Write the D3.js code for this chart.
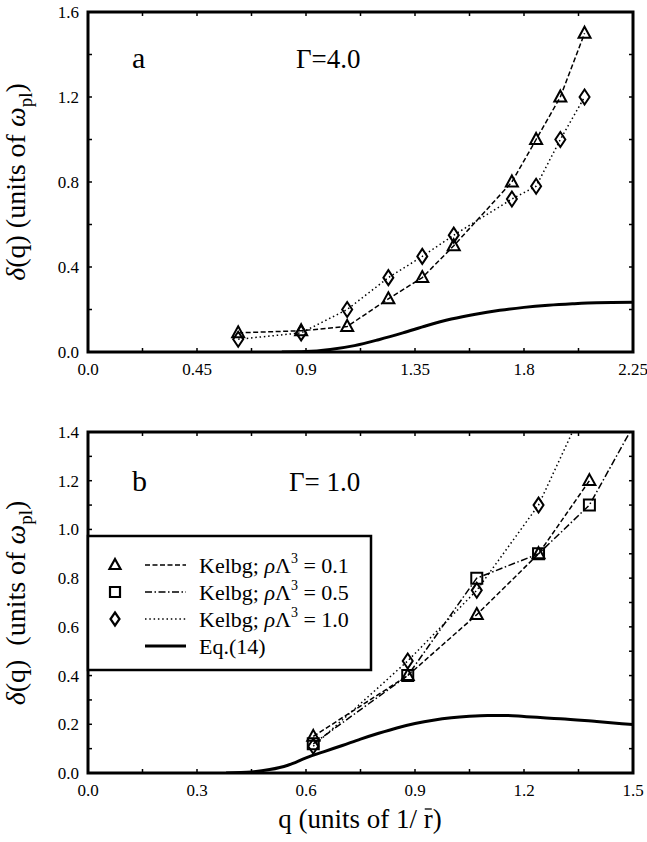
<!DOCTYPE html>
<html><head><meta charset="utf-8">
<script src="https://cdn.jsdelivr.net/npm/d3@7"></script>
<style>
body{margin:0;background:#fff}
svg text{font-family:"Liberation Serif","Tinos","Times New Roman",Times,"Nimbus Roman","DejaVu Serif",serif;}
</style>
</head><body>
<svg id="c" width="647" height="842" xmlns="http://www.w3.org/2000/svg"></svg>
<script>
// ---------- data: panel a (Gamma = 4.0) ----------
const qA   = [0.62, 0.88, 1.07, 1.24, 1.38, 1.51, 1.75, 1.85, 1.95, 2.05];
const triA = [0.09, 0.10, 0.12, 0.25, 0.35, 0.50, 0.80, 1.00, 1.20, 1.50];
const diaA = [0.06, 0.09, 0.20, 0.35, 0.45, 0.55, 0.72, 0.78, 1.00, 1.20];
const eqAq = [0.80, 0.90, 1.00, 1.10, 1.20, 1.30, 1.40, 1.50, 1.60, 1.70, 1.80, 1.90, 2.00, 2.10, 2.25];
const eqAy = [0.000, 0.002, 0.012, 0.030, 0.058, 0.090, 0.125, 0.155, 0.178, 0.196, 0.210, 0.220, 0.227, 0.232, 0.234];
// ---------- data: panel b (Gamma = 1.0) ----------
const triBq = [0.62, 0.88, 1.07, 1.24, 1.38];
const triB  = [0.15, 0.40, 0.65, 0.90, 1.20];
const sqBq  = [0.62, 0.88, 1.07, 1.24, 1.38, 1.51];
const sqB   = [0.12, 0.40, 0.80, 0.90, 1.10, 1.45];
const diaBq = [0.62, 0.88, 1.07, 1.24, 1.38];
const diaB  = [0.11, 0.46, 0.75, 1.10, 1.55];
const eqBq = [0.38, 0.45, 0.50, 0.55, 0.60, 0.65, 0.70, 0.75, 0.80, 0.85, 0.90, 0.95, 1.00, 1.05, 1.10, 1.15, 1.20, 1.30, 1.40, 1.50];
const eqBy = [0.000, 0.004, 0.014, 0.032, 0.062, 0.088, 0.113, 0.139, 0.163, 0.185, 0.203, 0.217, 0.227, 0.233, 0.236, 0.236, 0.232, 0.223, 0.211, 0.199];
// ---------- ticks ----------
const xTicksA = [0, 0.45, 0.9, 1.35, 1.8, 2.25];
const xLabelsA = ["0.0", "0.45", "0.9", "1.35", "1.8", "2.25"];
const yTicksA = [0, 0.4, 0.8, 1.2, 1.6];
const yLabelsA = ["0.0", "0.4", "0.8", "1.2", "1.6"];
const xTicksB = [0, 0.3, 0.6, 0.9, 1.2, 1.5];
const xLabelsB = ["0.0", "0.3", "0.6", "0.9", "1.2", "1.5"];
const yTicksB = [0, 0.2, 0.4, 0.6, 0.8, 1.0, 1.2, 1.4];
const yLabelsB = ["0.0", "0.2", "0.4", "0.6", "0.8", "1.0", "1.2", "1.4"];
const legendLabels = ["0.1", "0.5", "1.0"];

// ---------- drawing ----------
const svg = d3.select("#c");
const DASH = "5,2.5", DASHDOT = "7,2.5,1.5,2.5", DOT = "1.5,2.8";

function tri(x, y, w, h) { return `M${x},${y - h * 0.6}L${x + w / 2},${y + h * 0.4}L${x - w / 2},${y + h * 0.4}Z`; }
function dia(x, y, w, h) { return `M${x},${y - h / 2}L${x + w / 2},${y}L${x},${y + h / 2}L${x - w / 2},${y}Z`; }
function sq(x, y, s) { return `M${x - s / 2},${y - s / 2}h${s}v${s}h${-s}Z`; }

function panel(cfg) {
  const x = d3.scaleLinear().domain([0, cfg.xmax]).range([cfg.left, cfg.right]);
  const y = d3.scaleLinear().domain([0, cfg.ymax]).range([cfg.bottom, cfg.top]);
  const g = svg.append("g");
  const cid = "clip" + cfg.id;
  svg.append("clipPath").attr("id", cid).append("rect")
    .attr("x", cfg.left).attr("y", cfg.top)
    .attr("width", cfg.right - cfg.left).attr("height", cfg.bottom - cfg.top);

  const tl = 4;
  const xt = d3.range(0, cfg.xmax + 1e-9, cfg.xminor);
  const yt = d3.range(0, cfg.ymax + 1e-9, cfg.yminor);
  xt.forEach(v => {
    g.append("line").attr("x1", x(v)).attr("x2", x(v)).attr("y1", cfg.bottom).attr("y2", cfg.bottom - tl).attr("stroke", "#000").attr("stroke-width", 1.5);
    g.append("line").attr("x1", x(v)).attr("x2", x(v)).attr("y1", cfg.top).attr("y2", cfg.top + tl).attr("stroke", "#000").attr("stroke-width", 1.5);
  });
  yt.forEach(v => {
    g.append("line").attr("y1", y(v)).attr("y2", y(v)).attr("x1", cfg.left).attr("x2", cfg.left + tl).attr("stroke", "#000").attr("stroke-width", 1.5);
    g.append("line").attr("y1", y(v)).attr("y2", y(v)).attr("x1", cfg.right).attr("x2", cfg.right - tl).attr("stroke", "#000").attr("stroke-width", 1.5);
  });

  cfg.xTicks.forEach((v, i) => {
    g.append("text").attr("x", x(v)).attr("y", cfg.bottom + 23).attr("text-anchor", "middle")
      .attr("font-size", 17).text(cfg.xLabels[i]);
  });
  cfg.yTicks.forEach((v, i) => {
    g.append("text").attr("x", cfg.left - 9).attr("y", y(v) + 6).attr("text-anchor", "end")
      .attr("font-size", 17).text(cfg.yLabels[i]);
  });

  const d = svg.append("g").attr("clip-path", `url(#${cid})`);
  return { x, y, g, d };
}

function series(p, qs, vs, dash, marker) {
  const line = d3.line().x((v, i) => p.x(qs[i])).y(v => p.y(v));
  p.d.append("path").attr("d", line(vs)).attr("fill", "none").attr("stroke", "#000")
    .attr("stroke-width", 1.5).attr("stroke-dasharray", dash);
  vs.forEach((v, i) => {
    const cx = p.x(qs[i]), cy = p.y(v);
    let path;
    if (marker === "tri") path = tri(cx, cy, 12, 11);
    else if (marker === "dia") path = dia(cx, cy, 10, 15);
    else path = sq(cx, cy, 11);
    p.d.append("path").attr("d", path).attr("fill", "none").attr("stroke", "#000").attr("stroke-width", 2);
  });
}

function eqCurve(p, qs, vs) {
  const line = d3.line().x((v, i) => p.x(qs[i])).y(v => p.y(v)).curve(d3.curveMonotoneX);
  p.d.append("path").attr("d", line(vs)).attr("fill", "none").attr("stroke", "#000").attr("stroke-width", 3);
}

function frame(cfg) {
  svg.append("rect").attr("x", cfg.left).attr("y", cfg.top)
    .attr("width", cfg.right - cfg.left).attr("height", cfg.bottom - cfg.top)
    .attr("fill", "none").attr("stroke", "#000").attr("stroke-width", 3);
}

function yTitle(cy, dblSpace) {
  const t = svg.append("text").attr("transform", `translate(25,${cy}) rotate(-90)`)
    .attr("text-anchor", "middle").attr("font-size", 28);
  t.append("tspan").attr("font-style", "italic").text("δ");
  t.append("tspan").text(dblSpace ? "(q)\u00A0\u00A0(units of " : "(q) (units of ");
  t.append("tspan").attr("font-style", "italic").text("ω");
  t.append("tspan").attr("font-size", 19).attr("dy", 7).text("pl");
  t.append("tspan").attr("dy", -7).text(")");
}

// ---- panel a ----
const cfgA = { id: "A", left: 88, right: 633, top: 12, bottom: 352, xmax: 2.25, ymax: 1.6, xminor: 0.225, yminor: 0.2,
  xTicks: xTicksA, xLabels: xLabelsA, yTicks: yTicksA, yLabels: yLabelsA };
const pA = panel(cfgA);
eqCurve(pA, eqAq, eqAy);
series(pA, qA, diaA, DOT, "dia");
series(pA, qA, triA, DASH, "tri");
frame(cfgA);
svg.append("text").attr("x", 132).attr("y", 68).attr("font-size", 30).text("a");
svg.append("text").attr("x", 296).attr("y", 68).attr("font-size", 27).text("Γ=4.0");
yTitle(182, false);

// ---- panel b ----
const cfgB = { id: "B", left: 88, right: 633, top: 432, bottom: 773, xmax: 1.5, ymax: 1.4, xminor: 0.15, yminor: 0.1,
  xTicks: xTicksB, xLabels: xLabelsB, yTicks: yTicksB, yLabels: yLabelsB };
const pB = panel(cfgB);
eqCurve(pB, eqBq, eqBy);
series(pB, diaBq, diaB, DOT, "dia");
series(pB, sqBq, sqB, DASHDOT, "sq");
series(pB, triBq, triB, DASH, "tri");
frame(cfgB);
svg.append("text").attr("x", 132).attr("y", 491).attr("font-size", 30).text("b");
svg.append("text").attr("x", 289).attr("y", 491).attr("font-size", 27).text("Γ= 1.0");
yTitle(603, true);

// x title with overlined r
const xt = svg.append("text").attr("x", 360).attr("y", 828).attr("text-anchor", "middle")
  .attr("font-size", 27).text("q (units of 1/ r)");
{
  const node = xt.node();
  const n = node.getNumberOfChars();
  const ext = node.getExtentOfChar(n - 2); // the 'r'
  svg.append("line").attr("x1", ext.x + 1).attr("x2", ext.x + ext.width - 1)
    .attr("y1", ext.y + 5).attr("y2", ext.y + 5).attr("stroke", "#000").attr("stroke-width", 1.3);
}

// ---- legend ----
const lg = svg.append("g");
lg.append("rect").attr("x", 88).attr("y", 536).attr("width", 283).attr("height", 134)
  .attr("fill", "#fff").attr("stroke", "#000").attr("stroke-width", 2.5);
const rows = [565, 592, 619, 646];
const styles = [DASH, DASHDOT, DOT];
const marks = ["tri", "sq", "dia"];
rows.forEach((ry, i) => {
  if (i < 3) {
    let path = marks[i] === "tri" ? tri(115, ry, 11, 10) : marks[i] === "sq" ? sq(115, ry, 10) : dia(115, ry, 9, 13);
    lg.append("path").attr("d", path).attr("fill", "none").attr("stroke", "#000").attr("stroke-width", 2.2);
    lg.append("line").attr("x1", 145).attr("x2", 186).attr("y1", ry).attr("y2", ry)
      .attr("stroke", "#000").attr("stroke-width", 1.5).attr("stroke-dasharray", styles[i]);
    const t = lg.append("text").attr("x", 199).attr("y", ry + 8).attr("font-size", 22);
    t.append("tspan").text("Kelbg; ");
    t.append("tspan").attr("font-style", "italic").text("ρ");
    t.append("tspan").text("Λ");
    t.append("tspan").attr("font-size", 14).attr("dy", -10).text("3");
    t.append("tspan").attr("dy", 10).text(" = " + legendLabels[i]);
  } else {
    lg.append("line").attr("x1", 145).attr("x2", 186).attr("y1", ry).attr("y2", ry)
      .attr("stroke", "#000").attr("stroke-width", 3);
    lg.append("text").attr("x", 199).attr("y", ry + 8).attr("font-size", 22).text("Eq.(14)");
  }
});
</script>
</body></html>
